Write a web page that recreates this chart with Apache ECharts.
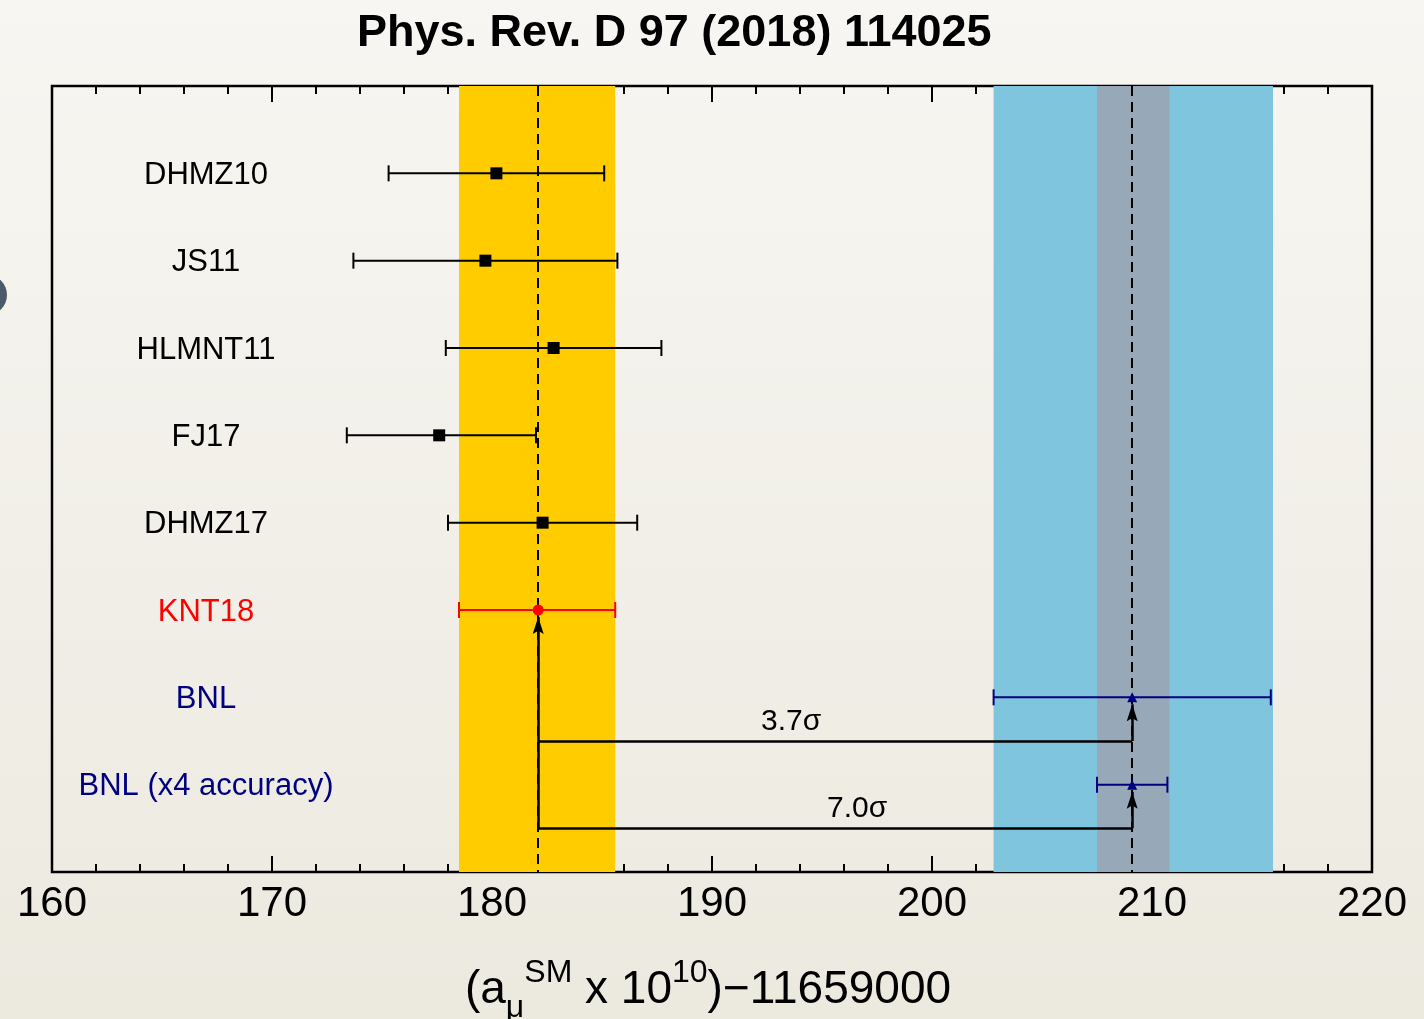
<!DOCTYPE html>
<html>
<head>
<meta charset="utf-8">
<script src="https://cdn.jsdelivr.net/npm/echarts@6/dist/echarts.min.js"></script>
<style>html,body{margin:0;padding:0;}#c{width:1424px;height:1019px;}</style>
</head>
<body>
<div id="c"></div>
<script>
// ---- data ----
const labels = ['DHMZ10', 'JS11', 'HLMNT11', 'FJ17', 'DHMZ17', 'KNT18', 'BNL', 'BNL (x4 accuracy)'];
const rows = [1, 2, 3, 4, 5, 6, 7, 8];
const centers = [180.2, 179.7, 182.8, 177.6, 182.3, 182.1, 209.1, 209.1];
const lows = [175.3, 173.7, 177.9, 173.4, 178.0, 178.5, 202.8, 207.5];
const highs = [185.1, 185.7, 187.7, 182.0, 186.6, 185.6, 215.4, 210.7];
const kinds = ['pheno', 'pheno', 'pheno', 'pheno', 'pheno', 'knt', 'exp', 'exp'];
const smBand = [178.5, 185.6];
const expBand = [202.8, 215.5];
const expBand4 = [207.5, 210.8];
const smValue = 182.1;
const expValue = 209.1;
const sigmaLabels = ['3.7σ', '7.0σ'];
const sigmaRows = [7.5, 8.5];
const sigmaLabelX = [193.6, 196.6];
const xTicks = [160, 170, 180, 190, 200, 210, 220];

const kindColor = { pheno: '#000000', knt: '#ff0000', exp: '#000080' };
const labelX = 167;
const arrowGap = 0.08; // keeps arrow tips just below the markers

const chart = echarts.init(document.getElementById('c'));

const errData = rows.map((r, i) => [lows[i], highs[i], r, i]);

const labelSeriesData = rows.map((r, i) => ({
  value: [labelX, r],
  label: { color: kindColor[kinds[i]] }
}));

function markerData(kind) {
  return rows.map((r, i) => kinds[i] === kind ? [centers[i], r] : null).filter(d => d);
}

// connector segments
const segs = [
  { coords: [[smValue, sigmaRows[1]], [smValue, 6 + arrowGap]] },
  { coords: [[smValue, sigmaRows[0]], [expValue, sigmaRows[0]]] },
  { coords: [[expValue, sigmaRows[0]], [expValue, 7 + arrowGap]] },
  { coords: [[smValue, sigmaRows[1]], [expValue, sigmaRows[1]]] },
  { coords: [[expValue, sigmaRows[1]], [expValue, 8 + arrowGap]] }
];
// arrow tips (pointing up)
const arrowTips = [[smValue, 6 + arrowGap], [expValue, 7 + arrowGap], [expValue, 8 + arrowGap]];

const font = '"Liberation Sans", Arial, Helvetica, sans-serif';

const xAxisCommon = {
  type: 'value', min: 160, max: 220, interval: 10,
  axisLine: { show: false, onZero: false },
  splitLine: { show: false },
  axisTick: { show: true, inside: true, length: 16, lineStyle: { color: '#000', width: 2 } },
  minorTick: { show: true, splitNumber: 5, length: 8, lineStyle: { color: '#000', width: 2 } }
};

const option = {
  animation: false,
  backgroundColor: { type: 'linear', x: 0, y: 0, x2: 0, y2: 1, colorStops: [
    { offset: 0, color: '#f7f6f2' }, { offset: 1, color: '#ece9df' }] },
  title: {
    text: 'Phys. Rev. D 97 (2018) 114025',
    left: 352, top: 6,
    textStyle: { fontFamily: font, fontWeight: 'bold', fontSize: 45, color: '#000' }
  },
  graphic: [{
    type: 'circle', shape: { cx: -13, cy: 295, r: 20 }, style: { fill: '#4b5a68' }
  }],
  grid: { left: 52, right: 52, top: 86, bottom: 147, outerBoundsMode: 'none', containLabel: false,
    show: true, borderColor: '#000', borderWidth: 2.5, backgroundColor: 'transparent' },
  xAxis: [
    Object.assign({}, xAxisCommon, {
      position: 'bottom',
      axisLabel: {
        fontFamily: font, fontSize: 42, color: '#000', margin: 11,
        formatter: v => xTicks.includes(v) ? String(v) : ''
      },
      name: '{m|(a}{sub|μ}{sup|SM}{m| x 10}{sup|10}{m|)−11659000}',
      nameLocation: 'middle', nameGap: 80,
      nameTextStyle: {
        fontFamily: font, color: '#000', padding: [0, 8, 0, 0],
        rich: {
          m: { fontFamily: font, fontSize: 46, lineHeight: 76, color: '#000', verticalAlign: 'middle' },
          sup: { fontFamily: font, fontSize: 32, lineHeight: 32, color: '#000', verticalAlign: 'top', padding: [5, 0, 0, 0] },
          sub: { fontFamily: font, fontSize: 32, lineHeight: 32, color: '#000', verticalAlign: 'bottom', padding: [0, 0, 4, 0] }
        }
      }
    }),
    Object.assign({}, xAxisCommon, { position: 'top', axisLabel: { show: false } })
  ],
  yAxis: { type: 'value', min: 0, max: 9, inverse: true, show: false },
  series: [
    {
      type: 'scatter', name: 'bands', data: [], z: 1,
      markArea: {
        silent: true,
        data: [
          [{ xAxis: smBand[0], itemStyle: { color: '#ffcc00', opacity: 1 } }, { xAxis: smBand[1] }],
          [{ xAxis: expBand[0], itemStyle: { color: '#7fc5dd', opacity: 1 } }, { xAxis: expBand[1] }],
          [{ xAxis: expBand4[0], itemStyle: { color: '#97a9b9', opacity: 1 } }, { xAxis: expBand4[1] }]
        ]
      },
      markLine: {
        silent: true, symbol: 'none', label: { show: false },
        lineStyle: { color: '#000', type: [10, 6], width: 2, opacity: 1 },
        data: [{ xAxis: smValue }, { xAxis: expValue }]
      }
    },
    {
      type: 'custom', name: 'errors', z: 3,
      data: errData,
      encode: { x: [0, 1], y: 2 },
      renderItem: function (params, api) {
        const lo = api.value(0), hi = api.value(1), r = api.value(2), idx = api.value(3);
        const p1 = api.coord([lo, r]);
        const p2 = api.coord([hi, r]);
        const c = kindColor[kinds[idx]];
        const h = 8;
        const st = { stroke: c, lineWidth: 2 };
        return {
          type: 'group',
          children: [
            { type: 'line', shape: { x1: p1[0], y1: p1[1], x2: p2[0], y2: p2[1] }, style: st },
            { type: 'line', shape: { x1: p1[0], y1: p1[1] - h, x2: p1[0], y2: p1[1] + h }, style: st },
            { type: 'line', shape: { x1: p2[0], y1: p2[1] - h, x2: p2[0], y2: p2[1] + h }, style: st }
          ]
        };
      }
    },
    {
      type: 'lines', name: 'connectors', coordinateSystem: 'cartesian2d', z: 4,
      symbol: 'none',
      lineStyle: { color: '#000', width: 2.5, opacity: 1 },
      data: segs
    },
    {
      type: 'scatter', name: 'arrowheads', z: 4,
      symbol: 'path://M5,0 L10,16 L5,13 L0,16 Z', symbolSize: [11, 17], symbolKeepAspect: false,
      symbolOffset: [0, '50%'],
      itemStyle: { color: '#000', opacity: 1 },
      data: arrowTips
    },
    {
      type: 'scatter', name: 'pheno', z: 5, symbol: 'rect', symbolSize: 12,
      itemStyle: { color: '#000', opacity: 1 }, data: markerData('pheno')
    },
    {
      type: 'scatter', name: 'knt', z: 5, symbol: 'circle', symbolSize: 11,
      itemStyle: { color: '#ff0000', opacity: 1 }, data: markerData('knt')
    },
    {
      type: 'scatter', name: 'exp', z: 5, symbol: 'triangle', symbolSize: 10,
      itemStyle: { color: '#000080', opacity: 1 }, data: markerData('exp')
    },
    {
      type: 'scatter', name: 'labels', z: 6, symbolSize: 1, itemStyle: { color: 'rgba(0,0,0,0)', opacity: 1 },
      data: labelSeriesData,
      label: {
        show: true, position: 'inside', offset: [0, 2], fontFamily: font, fontSize: 31, opacity: 1,
        formatter: p => labels[p.dataIndex]
      }
    },
    {
      type: 'scatter', name: 'sigma', z: 6, symbolSize: 1, itemStyle: { color: 'rgba(0,0,0,0)', opacity: 1 },
      data: sigmaRows.map((r, i) => [sigmaLabelX[i], r]),
      label: {
        show: true, position: 'top', distance: 4, fontFamily: font, fontSize: 30, color: '#000', opacity: 1,
        formatter: p => sigmaLabels[p.dataIndex]
      }
    }
  ]
};
chart.setOption(option);
</script>
</body>
</html>
